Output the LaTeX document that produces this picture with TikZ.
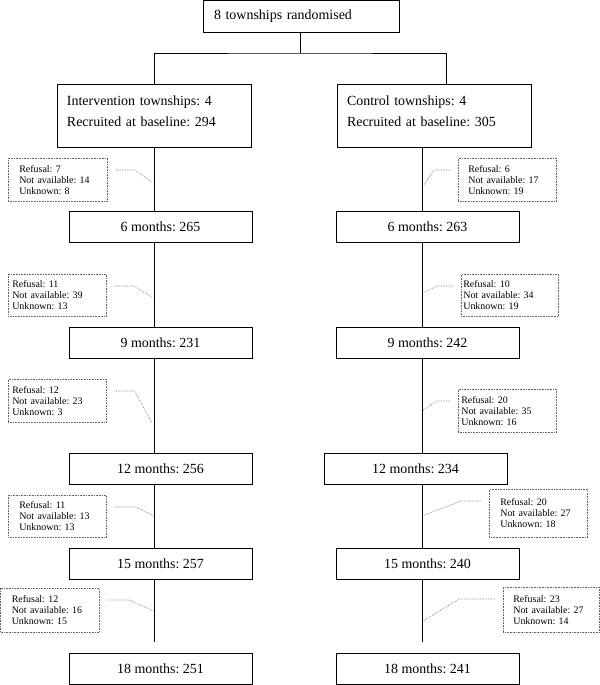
\documentclass[tikz,border=0pt]{standalone}
\usepackage{fontspec}
\setmainfont{Liberation Serif}
\usepackage{tikz}
\usepackage{xcolor}
\definecolor{DotGray}{RGB}{100,100,100}
\frenchspacing
\newcommand{\stagefont}{\fontsize{14}{17}\selectfont}
\newcommand{\armfont}{\fontsize{14}{21}\selectfont}
\newcommand{\dropfont}{\fontsize{10}{11}\selectfont}
\tikzset{
  basebox/.style={rectangle,draw=black,line width=0.9bp,inner sep=0pt},
  topbox/.style={basebox,minimum width=196bp,minimum height=31.5bp,
    align=left,text width=174bp,inner xsep=11bp,font=\stagefont},
  armbox/.style={basebox,minimum width=194bp,minimum height=63bp,
    align=left,text width=174bp,inner xsep=10bp,font=\armfont},
  stagebox/.style={basebox,minimum width=183bp,minimum height=31bp,
    font=\stagefont},
  dropbox/.style={rectangle,draw=DotGray,densely dotted,line width=0.6bp,
    align=left,anchor=north west,inner ysep=2bp,font=\dropfont},
  flowline/.style={draw=black,line width=0.9bp},
  droplink/.style={draw=DotGray,densely dotted,line width=0.6bp}
}

\begin{document}
\begin{tikzpicture}[x=1bp,y=-1bp]
  \useasboundingbox (0,0) rectangle (600,685);
  % randomisation and the two arms
  \node[topbox] (rand) at (301,16.25) {8 townships randomised};
  \node[armbox] (intv) at (154,115.5) {Intervention townships: 4\\Recruited at baseline: 294\rule[-8.5bp]{0pt}{8.5bp}};
  \node[armbox] (ctrl) at (434,115.5) {Control townships: 4\\Recruited at baseline: 305\rule[-8.5bp]{0pt}{8.5bp}};
  \coordinate (split) at (300.5,53);
  \coordinate (colI) at (154.5,0);
  \coordinate (colC) at (422.5,0);
  \coordinate (dropC) at (446,0);
  \draw[flowline] (rand.south -| split) -- (split);
  \draw[flowline] (intv.north -| colI) |- (split) -| (ctrl.north -| dropC);

  % follow-up visits
  \node[stagebox] (m6i) at (160.5,226.5) {6 months: 265};
  \node[stagebox] (m9i) at (160.5,342.5) {9 months: 231};
  \node[stagebox] (m12i) at (160.5,468.5) {12 months: 256};
  \node[stagebox] (m15i) at (160.5,563.5) {15 months: 257};
  \node[stagebox] (m18i) at (160.5,668.5) {18 months: 251};
  \node[stagebox] (m6c) at (427.5,226.5) {6 months: 263};
  \node[stagebox] (m9c) at (427.5,342.5) {9 months: 242};
  \node[stagebox] (m12c) at (415.5,468.5) {12 months: 234};
  \node[stagebox] (m15c) at (427.5,563.5) {15 months: 240};
  \node[stagebox] (m18c) at (427.5,668.5) {18 months: 241};

  \coordinate (endI) at (154.5,642);
  \coordinate (endC) at (422.5,642);
  \foreach \a/\b in {intv/m6i,m6i/m9i,m9i/m12i,m12i/m15i}
    \draw[flowline] (\a.south -| colI) -- (\b.north -| colI);
  \foreach \a/\b in {ctrl/m6c,m6c/m9c,m9c/m12c,m12c/m15c}
    \draw[flowline] (\a.south -| colC) -- (\b.north -| colC);
  \draw[flowline] (m15i.south -| colI) -- (endI);
  \draw[flowline] (m15c.south -| colC) -- (endC);

  % losses to follow-up
  \node[dropbox,minimum height=43bp,text width=77bp,inner xsep=11bp] (lossi1) at (8,158) {Refusal: 7\\Not available: 14\\Unknown: 8};
  \node[dropbox,minimum height=42bp,text width=90bp,inner xsep=4bp] (lossi2) at (8,274) {Refusal: 11\\Not available: 39\\Unknown: 13};
  \node[dropbox,minimum height=43bp,text width=90bp,inner xsep=4bp] (lossi3) at (8,379) {Refusal: 12\\Not available: 23\\Unknown: 3};
  \node[dropbox,minimum height=42bp,text width=76bp,inner xsep=11bp] (lossi4) at (8,495) {Refusal: 11\\Not available: 13\\Unknown: 13};
  \node[dropbox,minimum height=44bp,text width=76bp,inner xsep=11bp] (lossi5) at (0.5,588) {Refusal: 12\\Not available: 16\\Unknown: 15};
  \node[dropbox,minimum height=43bp,text width=78bp,inner xsep=10bp] (lossc1) at (458,158) {Refusal: 6\\Not available: 17\\Unknown: 19};
  \node[dropbox,minimum height=42bp,text width=93bp,inner xsep=2bp] (lossc2) at (461,274) {Refusal: 10\\Not available: 34\\Unknown: 19};
  \node[dropbox,minimum height=43bp,text width=92bp,inner xsep=3bp] (lossc3) at (458,389) {Refusal: 20\\Not available: 35\\Unknown: 16};
  \node[dropbox,minimum height=48bp,text width=76bp,inner xsep=11bp] (lossc4) at (489,489) {Refusal: 20\\Not available: 27\\Unknown: 18};
  \node[dropbox,minimum height=45bp,text width=76bp,inner xsep=10bp] (lossc5) at (503,587) {Refusal: 23\\Not available: 27\\Unknown: 14};

  \foreach \b/\h/\ex/\ey in {lossi1/19/152/182,lossi2/19/152/297,lossi3/20/152/423,
      lossi4/21/154/516,lossi5/22/154/611}{
    \coordinate (\b-end) at (\ex,\ey);
    \draw[droplink] ([xshift=8bp,yshift=-12bp]\b.north east) -- ++(\h,0) -- (\b-end);
  }
  \foreach \b/\h/\ex/\ey in {lossc1/-16/424/185,lossc2/-16/423/293,lossc3/-13/423/410,
      lossc4/-20/422/516,lossc5/-36/423/621}{
    \coordinate (\b-end) at (\ex,\ey);
    \draw[droplink] ([xshift=-8bp,yshift=-12bp]\b.north west) -- ++(\h,0) -- (\b-end);
  }
\end{tikzpicture}
\end{document}
